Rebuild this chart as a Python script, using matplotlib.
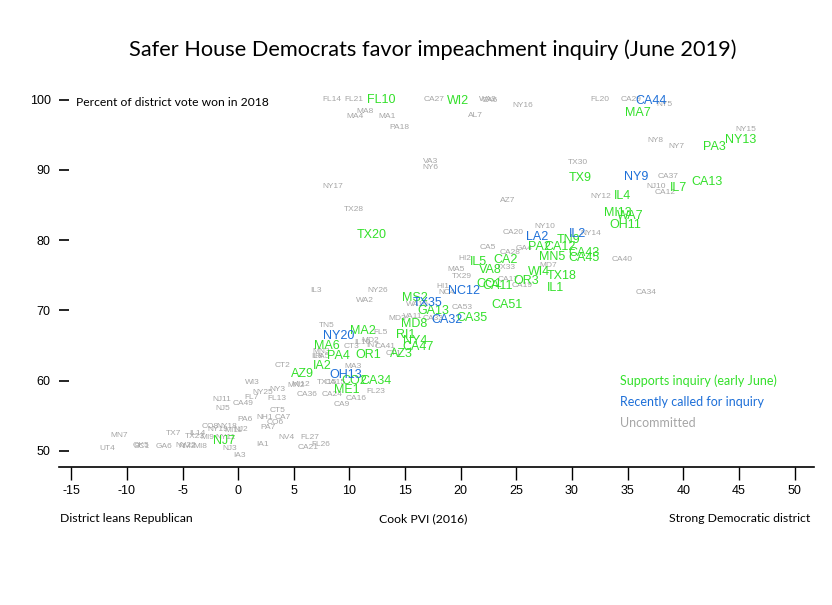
import matplotlib.pyplot as plt

##### data : Cook PVI (2016) vs percent of vote won in 2018
### supporting inquiry (early June)
sup_names = ['FL10', 'WI2', 'MA7', 'NY13', 'PA3', 'TX9', 'IL7', 'CA13', 'IL4', 'MI13',
             'WA7', 'OH11', 'TX20', 'TN9', 'PA2', 'CA12', 'MN5', 'CA43', 'CA45', 'IL5',
             'CA2', 'VA8', 'WI4', 'TX18', 'OR3', 'CO1', 'CA11', 'IL1', 'CA51', 'MS2',
             'GA13', 'CA35', 'MA2', 'MD8', 'RI1', 'NY4', 'CA47', 'AZ3', 'MA6', 'PA4',
             'OR1', 'AZ9', 'IA2', 'CO2', 'CA34', 'ME1', 'NJ7']
sup_pvi = [12.9, 19.8, 35.9, 45.2, 42.8, 30.7, 39.6, 42.1, 34.5, 34.1,
           35.2, 34.8, 12.0, 29.7, 27.1, 28.9, 28.2, 31.1, 31.1, 21.6,
           24.0, 22.7, 27.0, 29.1, 25.9, 22.6, 23.3, 28.5, 24.2, 15.9,
           17.5, 21.0, 11.2, 15.8, 15.1, 15.9, 16.2, 14.7, 8.0, 9.0,
           11.7, 5.8, 7.6, 10.4, 12.4, 9.8, -1.3]
sup_vote = [99.9, 99.8, 98.1, 94.2, 93.3, 88.9, 87.5, 88.3, 86.3, 83.9,
            83.5, 82.1, 80.8, 80.0, 79.1, 79.1, 77.6, 78.2, 77.5, 76.9,
            77.2, 75.8, 75.5, 74.9, 74.2, 73.8, 73.5, 73.2, 70.8, 71.8,
            69.9, 68.9, 67.1, 68.0, 66.5, 65.7, 64.8, 63.8, 65.0, 63.5,
            63.7, 61.0, 62.1, 60.0, 59.9, 58.7, 51.4]

### recently called for inquiry
rec_names = ['CA44', 'NY9', 'LA2', 'IL2', 'NC12', 'TX35', 'CA32', 'NY20', 'OH13']
rec_pvi = [37.1, 35.8, 26.9, 30.5, 20.3, 17.0, 18.8, 9.0, 9.7]
rec_vote = [99.8, 89.0, 80.5, 80.9, 72.8, 71.1, 68.7, 66.4, 60.8]

### uncommitted
unc_names = ['FL14', 'FL21', 'MA8', 'MA4', 'MA1', 'PA18', 'CA27', 'WA9', 'CA6', 'AL7',
             'NY16', 'FL20', 'CA29', 'NY5', 'NY15', 'NY8', 'NY7', 'TX30', 'CA37', 'NJ10',
             'CA12', 'NY12', 'AZ7', 'VA3', 'NY6', 'NY17', 'TX28', 'NY10', 'CA20', 'NY14',
             'CA5', 'CA28', 'GA4', 'CA40', 'HI2', 'MA5', 'TX33', 'MD7', 'TX29', 'CA17',
             'CA19', 'CA34', 'IL3', 'NY26', 'WA2', 'MD3', 'TN5', 'FL5', 'MD2', 'IN7',
             'CT3', 'MA3', 'CT1', 'CT2', 'WI3', 'NY25', 'FL7', 'FL13', 'CA24', 'CA16',
             'FL23', 'CA9', 'CA7', 'CO6', 'PA7', 'NV4', 'FL27', 'CA21', 'FL26', 'MN7',
             'UT4', 'OK5', 'GA6', 'NY22', 'TX7', 'IL14', 'MI8', 'NJ3', 'IA3', 'NJ11',
             'NJ5', 'CA49', 'MI11', 'NY11', 'CT5', 'PA6', 'NH1', 'IA1', 'CO8', 'NY18',
             'NY19', 'NJ2', 'TX23', 'MI9', 'NM2', 'SC1', 'MN3', 'PA5', 'IL8', 'CA41',
             'IL10', 'MI12', 'MN2', 'TX15', 'CA15', 'CA36', 'NY3', 'NC4', 'HI1', 'CA53',
             'CA33', 'VA11', 'WA10']
unc_pvi = [8.4, 10.4, 11.4, 10.5, 13.4, 14.5, 17.6, 22.4, 22.6, 21.3,
           25.6, 32.5, 35.3, 38.3, 45.6, 37.5, 39.4, 30.5, 38.6, 37.6,
           38.4, 32.6, 24.2, 17.3, 17.3, 8.5, 10.4, 27.6, 24.7, 31.7,
           22.4, 24.4, 25.7, 34.5, 20.4, 19.6, 24.1, 27.9, 20.1, 24.3,
           25.5, 36.7, 7.0, 12.5, 11.4, 14.3, 8.0, 12.8, 11.9, 12.1,
           10.2, 10.3, 14.0, 4.0, 1.3, 2.2, 1.2, 3.5, 8.4, 10.6,
           12.4, 9.3, 4.0, 3.3, 2.7, 4.3, 6.4, 6.3, 7.4, -10.7,
           -11.8, -8.7, -6.7, -4.7, -5.8, -3.7, -3.4, -0.8, 0.1, -1.5,
           -1.4, 0.4, -0.4, -1.1, 3.5, 0.6, 2.4, 2.2, -2.5, -1.0,
           -1.8, 0.2, -3.9, -2.8, -4.6, -8.7, 7.5, 7.5, 7.1, 13.2,
           11.2, 5.6, 5.2, 8.0, 8.7, 6.2, 3.5, 18.7, 18.4, 20.1,
           17.5, 15.7, 16.1]
unc_vote = [100.0, 100.0, 98.3, 97.6, 97.6, 96.0, 100.0, 100.0, 99.9, 97.7,
            99.2, 100.0, 100.0, 99.3, 95.8, 94.2, 93.3, 91.0, 89.0, 87.6,
            86.8, 86.2, 85.6, 91.2, 90.4, 87.7, 84.3, 82.0, 81.1, 80.9,
            78.9, 78.2, 78.8, 77.2, 77.4, 75.8, 76.1, 76.4, 74.9, 74.4,
            73.5, 72.5, 72.9, 72.9, 71.4, 68.9, 67.8, 66.8, 65.7, 65.0,
            64.9, 62.0, 63.8, 62.1, 59.7, 58.3, 57.6, 57.5, 58.0, 57.5,
            58.4, 56.6, 54.8, 54.0, 53.3, 51.9, 51.9, 50.5, 50.9, 52.2,
            50.3, 50.7, 50.6, 50.7, 52.5, 52.4, 50.6, 50.3, 49.4, 57.3,
            56.1, 56.8, 52.9, 51.9, 55.8, 54.4, 54.7, 50.9, 53.4, 53.4,
            53.0, 53.0, 52.0, 51.9, 50.6, 50.6, 64.2, 63.4, 63.4, 64.8,
            65.5, 59.5, 59.3, 59.7, 59.7, 58.0, 58.8, 72.5, 73.4, 70.4,
            68.9, 69.1, 70.8]

legend_labels = ['Supports inquiry (early June)', 'Recently called for inquiry', 'Uncommitted']
x_ticks = [-15, -10, -5, 0, 5, 10, 15, 20, 25, 30, 35, 40, 45, 50]
y_ticks = [50, 60, 70, 80, 90, 100]

green = '#33e02a'
blue = '#1d6fd8'
grey = '#a6a6a6'
lab_font = ['Liberation Sans', 'DejaVu Sans']
txt_font = ['Lato', 'DejaVu Sans']
tick_font = ['Liberation Sans Narrow', 'Liberation Sans', 'DejaVu Sans']

fig = plt.figure(figsize=(8.32, 6.05), dpi=100)
ax = fig.add_axes([59 / 832, 1 - 467 / 605, 755 / 832, 382 / 605])

# grey first so coloured names sit on top
for n, x, y in zip(unc_names, unc_pvi, unc_vote):
    ax.text(x, y, n, color=grey, fontsize=6, ha='center', va='center', family=lab_font)
for n, x, y in zip(sup_names, sup_pvi, sup_vote):
    ax.text(x, y, n, color=green, fontsize=9, ha='center', va='center', family=lab_font)
for n, x, y in zip(rec_names, rec_pvi, rec_vote):
    ax.text(x, y, n, color=blue, fontsize=9, ha='center', va='center', family=lab_font)

ax.set_xlim(-16.1, 51.75)
ax.set_ylim(47.7, 102.1)
ax.set_xticks(x_ticks)
ax.set_yticks(y_ticks)
ax.set_xticklabels([str(t) for t in x_ticks], family=tick_font, fontsize=9)
ax.set_yticklabels([str(t) for t in y_ticks], family=tick_font, fontsize=9)
for s in ['top', 'right', 'left']:
    ax.spines[s].set_visible(False)
ax.spines['bottom'].set_linewidth(1.2)
ax.tick_params(axis='x', direction='out', length=9, width=1, pad=4)
ax.tick_params(axis='y', direction='in', length=7, width=1.2, pad=6)

ax.text(0.022, 0.955, 'Percent of district vote won in 2018', transform=ax.transAxes,
        fontsize=8.7, family=txt_font, va='center')

leg_cols = [green, blue, grey]
for i, (lab, c) in enumerate(zip(legend_labels, leg_cols)):
    fig.text(620 / 832, 1 - (381 + 21 * i) / 605, lab, color=c, fontsize=9,
             family=txt_font, va='center')

fig.text(433 / 832, 1 - 50 / 605, 'Safer House Democrats favor impeachment inquiry (June 2019)',
         ha='center', va='center', fontsize=15.7, family=txt_font)
fig.text(60 / 832, 1 - 519 / 605, 'District leans Republican', ha='left', va='center',
         fontsize=8.8, family=txt_font)
fig.text(423 / 832, 1 - 519 / 605, 'Cook PVI (2016)', ha='center', va='center',
         fontsize=8.8, family=txt_font)
fig.text(810 / 832, 1 - 519 / 605, 'Strong Democratic district', ha='right', va='center',
         fontsize=8.8, family=txt_font)

fig.savefig('out.png', dpi=100)
